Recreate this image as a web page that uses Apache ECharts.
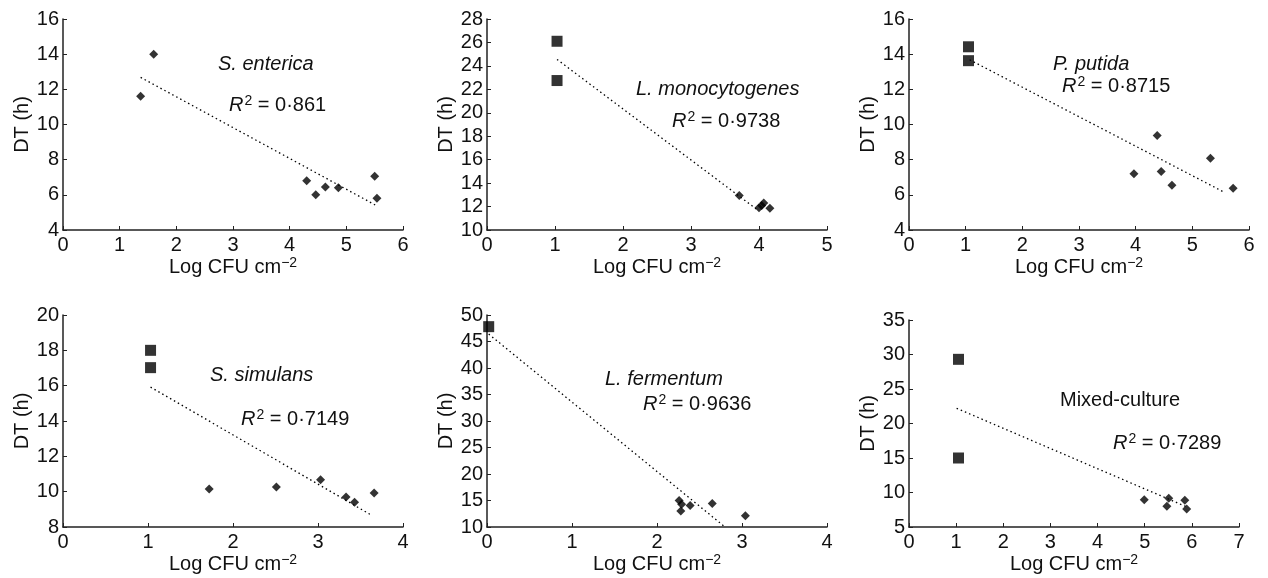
<!DOCTYPE html>
<html>
<head>
<meta charset="utf-8">
<script src="https://cdn.jsdelivr.net/npm/echarts@6/dist/echarts.min.js"></script>
<style>
  html, body { margin: 0; padding: 0; background: #fff; }
  #chart { width: 1268px; height: 578px; }
</style>
</head>
<body>
<div id="chart"></div>
<script>
// values: [Log CFU cm-2, DT (h)]
var entericaSquares = []
var entericaDiamonds = [[1.37, 11.6], [1.6, 14.0], [4.3, 6.8], [4.46, 6.0], [4.63, 6.45], [4.86, 6.4], [5.5, 7.05], [5.54, 5.8]]
var entericaTrend = [[1.37, 12.68], [5.54, 5.37]]

var monoSquares = [[1.03, 26.1], [1.03, 22.75]]
var monoDiamonds = [[3.71, 12.95], [4.0, 11.9], [4.04, 12.1], [4.07, 12.3], [4.16, 11.85]]
var monoTrend = [[1.03, 24.55], [3.97, 11.75]]

var putidaSquares = [[1.05, 14.42], [1.05, 13.63]]
var putidaDiamonds = [[3.97, 7.2], [4.38, 9.38], [4.45, 7.32], [4.64, 6.55], [5.32, 8.08], [5.72, 6.38]]
var putidaTrend = [[1.07, 13.68], [5.56, 6.15]]

var simulansSquares = [[1.03, 18.0], [1.03, 17.02]]
var simulansDiamonds = [[1.72, 10.15], [2.51, 10.27], [3.03, 10.68], [3.33, 9.7], [3.43, 9.4], [3.66, 9.92]]
var simulansTrend = [[1.03, 15.92], [3.64, 8.64]]

var fermentumSquares = [[0.02, 47.8]]
var fermentumDiamonds = [[2.26, 15.0], [2.29, 14.3], [2.28, 13.0], [2.39, 14.05], [2.65, 14.45], [3.04, 12.1]]
var fermentumTrend = [[0.02, 46.4], [2.8, 10]]

var mixedSquares = [[1.05, 29.3], [1.05, 15.0]]
var mixedDiamonds = [[4.99, 8.96], [5.47, 8.0], [5.51, 9.15], [5.85, 8.86], [5.89, 7.6]]
var mixedTrend = [[1.01, 22.2], [5.88, 7.95]]

var panelNames = ['S. enterica', 'L. monocytogenes', 'P. putida', 'S. simulans', 'L. fermentum', 'Mixed-culture']
var rSquared = ['0·861', '0·9738', '0·8715', '0·7149', '0·9636', '0·7289']
var xMax = [6, 5, 6, 4, 4, 7]
var yMin = [4, 10, 4, 8, 10, 5]
var yMax = [16, 28, 16, 20, 50, 35]
var yStep = [2, 2, 2, 2, 5, 5]

var squares = [entericaSquares, monoSquares, putidaSquares, simulansSquares, fermentumSquares, mixedSquares]
var diamonds = [entericaDiamonds, monoDiamonds, putidaDiamonds, simulansDiamonds, fermentumDiamonds, mixedDiamonds]
var trends = [entericaTrend, monoTrend, putidaTrend, simulansTrend, fermentumTrend, mixedTrend]

var font = '"Liberation Sans", Arial, Helvetica, sans-serif'
var ink = '#111'
var fs = 20

// grid boxes in px: left, top, width, height
var boxes = [
  [63, 19, 340, 211], [487, 19, 340, 211], [909, 19, 340, 211],
  [63, 315, 340, 212], [487, 315, 340, 212], [909, 320, 330, 207]
]
// annotation anchors (left x, centre y) for name and R2 line
var labelPos = [
  [[218, 65], [229, 107]],
  [[636, 90], [672, 123]],
  [[1053, 65], [1062, 88]],
  [[210, 376], [241, 421]],
  [[605, 380], [643, 406]],
  [[1060, 401], [1113, 445]]
]

var chartDom = document.querySelector('#chart')
var myChart = echarts.init(chartDom)

var grid = [], xAxis = [], yAxis = [], series = [], graphic = []

boxes.forEach(function (b, i) {
  grid.push({ left: b[0], top: b[1], width: b[2], height: b[3], containLabel: false })

  xAxis.push({
    type: 'value', gridIndex: i, min: 0, max: xMax[i], interval: 1,
    name: 'Log CFU cm{sup|−2}', nameLocation: 'middle', nameGap: 23,
    nameTextStyle: {
      fontFamily: font, fontSize: fs, color: ink,
      rich: { sup: { fontFamily: font, fontSize: 14, color: ink, padding: [0, 0, 9, 0] } }
    },
    axisLine: { lineStyle: { color: '#222', width: 1.5 } },
    axisTick: { inside: true, length: 4, lineStyle: { color: '#222' } },
    axisLabel: { fontFamily: font, fontSize: fs, color: ink, margin: 5 },
    splitLine: { show: false }
  })

  yAxis.push({
    type: 'value', gridIndex: i, min: yMin[i], max: yMax[i], interval: yStep[i],
    name: 'DT (h)', nameLocation: 'middle', nameGap: 31,
    nameTextStyle: { fontFamily: font, fontSize: fs, color: ink },
    axisLine: { lineStyle: { color: '#222', width: 1.5 } },
    axisTick: { inside: true, length: 4, lineStyle: { color: '#222' } },
    axisLabel: { fontFamily: font, fontSize: fs, color: ink, margin: 4 },
    splitLine: { show: false }
  })

  series.push({
    type: 'line', xAxisIndex: i, yAxisIndex: i, data: trends[i],
    symbol: 'none', silent: true,
    lineStyle: { color: '#000', width: 1.3, type: [1.5, 3] }
  })
  series.push({
    type: 'scatter', xAxisIndex: i, yAxisIndex: i, data: diamonds[i],
    symbol: 'diamond', symbolSize: 9, itemStyle: { color: '#000' }
  })
  series.push({
    type: 'scatter', xAxisIndex: i, yAxisIndex: i, data: squares[i],
    symbol: 'rect', symbolSize: 11, itemStyle: { color: '#000' }
  })

  var p = labelPos[i]
  graphic.push({
    type: 'text', left: p[0][0], top: p[0][1] - 11,
    style: {
      text: panelNames[i], fill: ink, fontFamily: font, fontSize: fs,
      fontStyle: i === 5 ? 'normal' : 'italic'
    }
  })
  graphic.push({
    type: 'text', left: p[1][0], top: p[1][1] - 13,
    style: {
      text: '{i|R}{s|2}{n| = ' + rSquared[i] + '}',
      rich: {
        i: { fontFamily: font, fontSize: fs, fontStyle: 'italic', fill: ink, color: ink },
        s: { fontFamily: font, fontSize: 14, fill: ink, color: ink, padding: [0, 0, 9, 1] },
        n: { fontFamily: font, fontSize: fs, fill: ink, color: ink }
      }
    }
  })
})

var option = {
  backgroundColor: '#fff',
  animation: false,
  grid: grid,
  xAxis: xAxis,
  yAxis: yAxis,
  series: series,
  graphic: graphic
}

option && myChart.setOption(option)
</script>
</body>
</html>
